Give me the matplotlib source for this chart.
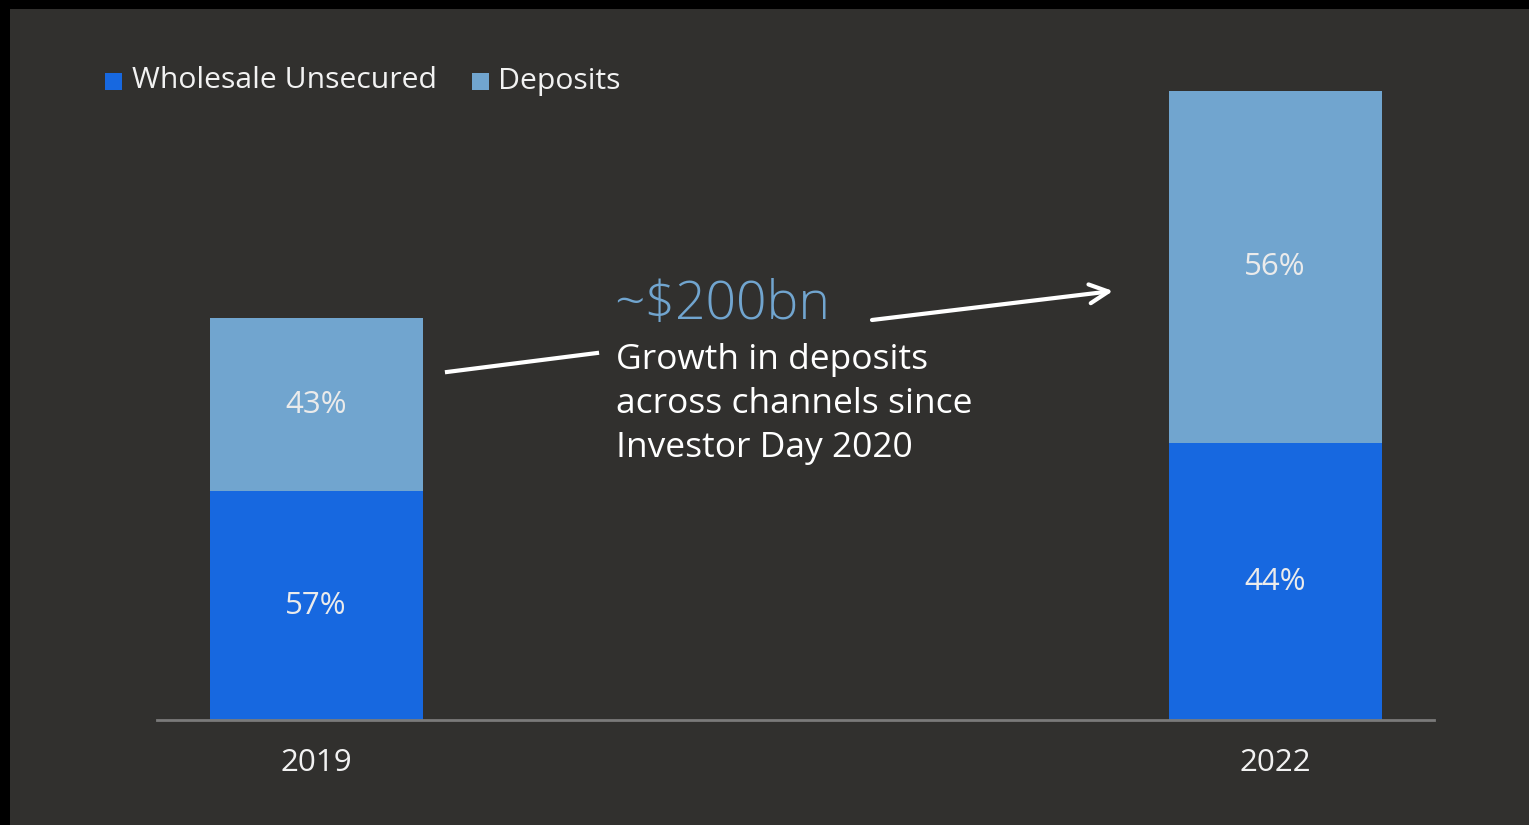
import matplotlib.pyplot as plt
from matplotlib.patches import Rectangle

years = ["2019", "2022"]
wholesale = [258, 312]   # $bn
deposits = [195, 397]
wholesale_pct = ["57%", "44%"]
deposits_pct = ["43%", "56%"]

W, H = 1529, 825
bg = "#31302e"
c_whole = "#1768e0"
c_dep = "#71a5cf"
txt = "#f2f2f2"

plt.rcParams['font.family'] = ['Open Sans', 'DejaVu Sans']

fig = plt.figure(figsize=(W / 100, H / 100), dpi=100, facecolor="black")
fig.patches.append(Rectangle((10 / W, 0), 1, 1 - 9 / H, transform=fig.transFigure,
                             facecolor=bg, edgecolor="none", zorder=-10))

def px(x, y):
    return x / W, 1 - y / H

ax = fig.add_axes([157 / W, (H - 720) / H, (1434 - 157) / W, 629 / H])
ax.set_facecolor("none")
ax.set_zorder(1)

x = [0, 1]
bw = 213 / 959
ax.bar(x, wholesale, width=bw, color=c_whole)
ax.bar(x, deposits, width=bw, bottom=wholesale, color=c_dep)

for i in range(2):
    ax.text(x[i], wholesale[i] / 2, wholesale_pct[i], ha="center", va="center",
            color="#ebebeb", fontsize=22.5)
    ax.text(x[i], wholesale[i] + deposits[i] / 2, deposits_pct[i], ha="center",
            va="center", color="#ebebeb", fontsize=22.5)

ax.set_xlim(-159 / 959, 1 + 159 / 959)
ax.set_ylim(0, wholesale[1] + deposits[1])
for s in ["top", "right", "left"]:
    ax.spines[s].set_visible(False)
ax.spines["bottom"].set_color("#7a7a7a")
ax.spines["bottom"].set_linewidth(2)
ax.set_yticks([])
ax.set_xticks(x)
ax.set_xticklabels(years, color=txt, fontsize=22.5)
ax.tick_params(axis="x", length=0, pad=20)

# legend
fig.patches.append(Rectangle(px(105, 90), 17 / W, 17 / H, transform=fig.transFigure,
                             facecolor=c_whole, edgecolor="none"))
fig.text(*px(132, 81), "Wholesale Unsecured", color=txt, fontsize=21.7, va="center")
fig.patches.append(Rectangle(px(472, 90), 17 / W, 17 / H, transform=fig.transFigure,
                             facecolor=c_dep, edgecolor="none"))
fig.text(*px(498, 81), "Deposits", color=txt, fontsize=21.7, va="center")

# annotation
fig.text(*px(614, 305), "~$200bn", color=c_dep, fontsize=38.5, va="center",
         fontweight="light")
fig.text(*px(616, 404), "Growth in deposits\nacross channels since\nInvestor Day 2020",
         color="white", fontsize=25.5, va="center", linespacing=1.38)

fig.add_artist(plt.Line2D([447 / W, 597 / W], [1 - 372 / H, 1 - 353 / H],
                          transform=fig.transFigure, color="white", lw=3))
ax.annotate("", xy=px(1113, 291), xycoords="figure fraction",
            xytext=px(872, 320), textcoords="figure fraction",
            arrowprops=dict(arrowstyle="->", color="white", lw=3,
                            mutation_scale=34, shrinkA=0, shrinkB=0))

plt.savefig("out.png", dpi=100, facecolor=fig.get_facecolor())
